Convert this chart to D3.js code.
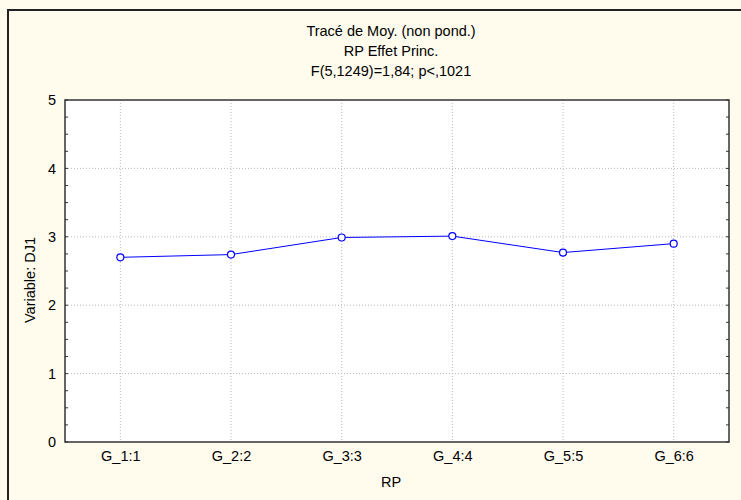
<!DOCTYPE html>
<html>
<head>
<meta charset="utf-8">
<script src="https://cdn.jsdelivr.net/npm/d3@7"></script>
<style>
  body { margin: 0; background: #fffcee; }
  svg { display: block; font-family: "Liberation Sans", Arial, sans-serif; }
</style>
</head>
<body>
<svg id="chart"></svg>
<script>
// data
const categories = ["G_1:1", "G_2:2", "G_3:3", "G_4:4", "G_5:5", "G_6:6"];
const means = [2.70, 2.74, 2.99, 3.01, 2.77, 2.90];
const yTicks = [0, 1, 2, 3, 4, 5];
const titleLines = ["Tracé de Moy. (non pond.)", "RP Effet Princ.", "F(5,1249)=1,84; p<,1021"];

const width = 741, height = 500;
const margin = { top: 100, right: 12, bottom: 58, left: 65 };
const fontSize = 14.5;

const svg = d3.select("#chart")
    .attr("width", width)
    .attr("height", height);

svg.append("rect")
    .attr("width", width).attr("height", height)
    .attr("fill", "#fffcee");

// outer frame (left + top only visible)
svg.append("path")
    .attr("d", `M8,${height} V10 H${width}`)
    .attr("fill", "none")
    .attr("stroke", "#222")
    .attr("stroke-width", 2);

const xScale = d3.scalePoint()
    .domain(categories)
    .range([margin.left, width - margin.right])
    .padding(0.5);

const yScale = d3.scaleLinear()
    .domain([0, 5])
    .range([height - margin.bottom, margin.top]);

const x0 = margin.left, x1 = width - margin.right;
const y0 = height - margin.bottom, y1 = margin.top;

// plot background
svg.append("rect")
    .attr("x", x0).attr("y", y1)
    .attr("width", x1 - x0).attr("height", y0 - y1)
    .attr("fill", "#fff");

// grid
svg.append("g").selectAll("line")
    .data(yTicks.slice(1, -1))
    .join("line")
    .attr("x1", x0).attr("x2", x1)
    .attr("y1", d => yScale(d)).attr("y2", d => yScale(d))
    .attr("stroke", "#bbb")
    .attr("stroke-dasharray", "1,2");

svg.append("g").selectAll("line")
    .data(categories)
    .join("line")
    .attr("x1", d => xScale(d)).attr("x2", d => xScale(d))
    .attr("y1", y1).attr("y2", y0)
    .attr("stroke", "#bbb")
    .attr("stroke-dasharray", "1,2");

// minor ticks inside, left and right
const minor = d3.range(0, 5.001, 0.25);
svg.append("g").selectAll("line")
    .data(minor)
    .join("line")
    .attr("x1", x0).attr("x2", x0 + 3)
    .attr("y1", d => yScale(d)).attr("y2", d => yScale(d))
    .attr("stroke", "#333");
svg.append("g").selectAll("line")
    .data(minor)
    .join("line")
    .attr("x1", x1).attr("x2", x1 - 3)
    .attr("y1", d => yScale(d)).attr("y2", d => yScale(d))
    .attr("stroke", "#333");

// axes
const yAxis = svg.append("g")
    .attr("transform", `translate(${x0},0)`)
    .call(d3.axisLeft(yScale).tickValues(yTicks).tickFormat(d3.format("d")).tickSize(0).tickPadding(9));
yAxis.select(".domain").remove();
yAxis.attr("font-size", fontSize).attr("font-family", null);
yAxis.selectAll("text").attr("fill", "#000");

const xAxis = svg.append("g")
    .attr("transform", `translate(0,${y0})`)
    .call(d3.axisBottom(xScale).tickSize(0).tickPadding(9));
xAxis.select(".domain").remove();
xAxis.attr("font-size", fontSize).attr("font-family", null);
xAxis.selectAll("text").attr("fill", "#000");

// plot frame
svg.append("rect")
    .attr("x", x0).attr("y", y1)
    .attr("width", x1 - x0).attr("height", y0 - y1)
    .attr("fill", "none")
    .attr("stroke", "#333")
    .attr("stroke-width", 1.5);

// line + markers
const line = d3.line()
    .x((d, i) => xScale(categories[i]))
    .y(d => yScale(d));

svg.append("path")
    .datum(means)
    .attr("d", line)
    .attr("fill", "none")
    .attr("stroke", "#0000ff")
    .attr("stroke-width", 1);

svg.append("g").selectAll("circle")
    .data(means)
    .join("circle")
    .attr("cx", (d, i) => xScale(categories[i]))
    .attr("cy", d => yScale(d))
    .attr("r", 3.5)
    .attr("fill", "#fff")
    .attr("stroke", "#0000ff")
    .attr("stroke-width", 1.2);

// titles
svg.append("g").selectAll("text")
    .data(titleLines)
    .join("text")
    .attr("x", 391)
    .attr("y", (d, i) => 36 + i * 20)
    .attr("text-anchor", "middle")
    .attr("font-size", fontSize)
    .text(d => d);

// axis labels
svg.append("text")
    .attr("x", 391).attr("y", 487)
    .attr("text-anchor", "middle")
    .attr("font-size", fontSize)
    .text("RP");

svg.append("text")
    .attr("transform", `translate(35,280) rotate(-90)`)
    .attr("text-anchor", "middle")
    .attr("font-size", fontSize)
    .text("Variable: DJ1");
</script>
</body>
</html>
